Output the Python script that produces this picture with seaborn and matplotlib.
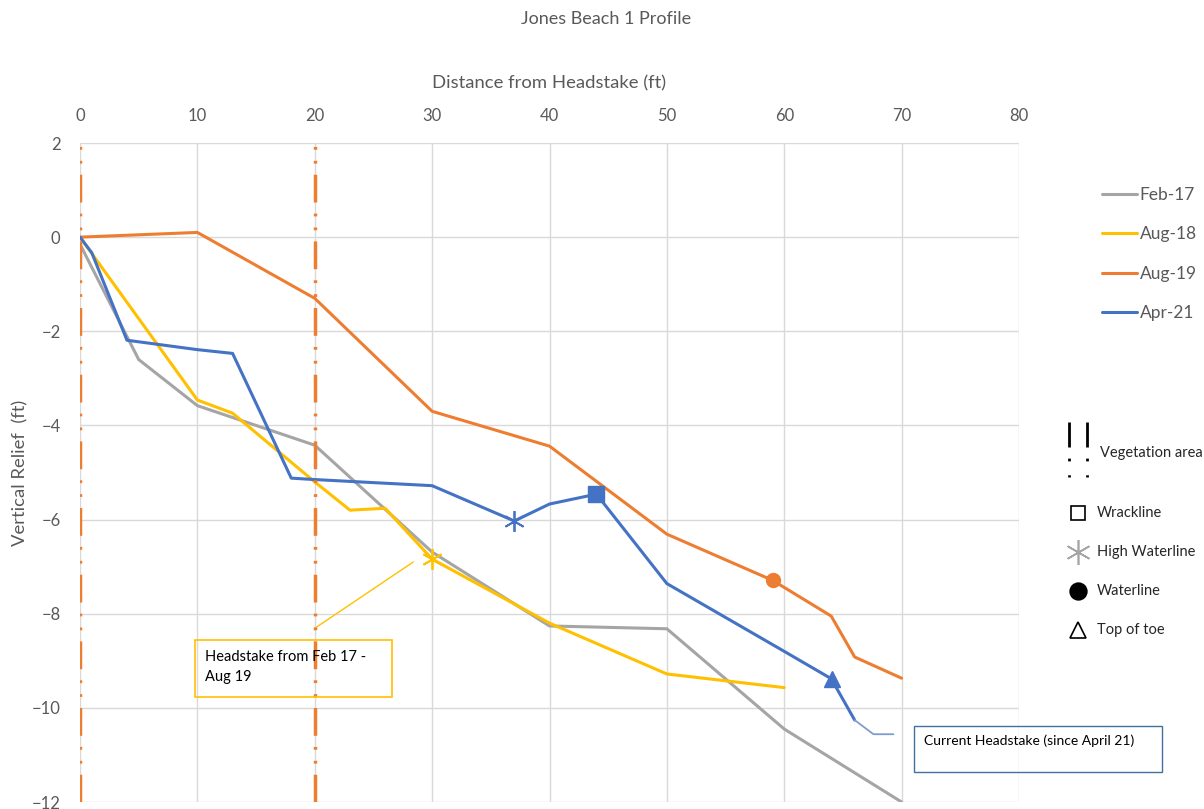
import numpy as np
import pandas as pd
import matplotlib.pyplot as plt
import seaborn as sns
from matplotlib.lines import Line2D

# profile data (distance ft, relief ft)
feb17_x = [0, 5, 10, 20, 30, 40, 50, 60, 70]
feb17_y = [-0.15, -2.6, -3.58, -4.42, -6.69, -8.26, -8.32, -10.45, -12.0]

aug18_x = [0, 10, 13, 20, 23, 26, 30, 40, 50, 60]
aug18_y = [0.0, -3.46, -3.74, -5.2, -5.8, -5.76, -6.84, -8.2, -9.28, -9.57]

aug19_x = [0, 10, 20, 30, 40, 50, 59, 64, 66, 70]
aug19_y = [0.0, 0.1, -1.3, -3.7, -4.44, -6.31, -7.29, -8.05, -8.92, -9.37]

apr21_x = [0, 1, 4, 10, 13, 18, 20, 30, 37, 40, 44, 50, 60, 64, 66]
apr21_y = [0.0, -0.33, -2.19, -2.39, -2.47, -5.12, -5.15, -5.28, -6.03, -5.67, -5.46, -7.36, -8.8, -9.38, -10.26]

# thin tail of the Apr-21 profile out to the current headstake
tail_x = [66, 67.6, 69.3]
tail_y = [-10.26, -10.56, -10.56]

series_names = ['Feb-17', 'Aug-18', 'Aug-19', 'Apr-21']
series_colors = ['#a5a5a5', '#ffc000', '#ed7d31', '#4472c4']

frames = []
for name, xs, ys in zip(series_names, [feb17_x, aug18_x, aug19_x, apr21_x],
                        [feb17_y, aug18_y, aug19_y, apr21_y]):
    frames.append(pd.DataFrame({'Distance': xs, 'Relief': ys, 'Survey': name}))
profiles = pd.concat(frames, ignore_index=True)

sns.set_style("white")
plt.rcParams['font.family'] = ['Lato', 'DejaVu Sans']
txt_col = '#595959'

fig = plt.figure(figsize=(12.04, 8.09), dpi=100)
ax = fig.add_axes([80 / 1204, 7 / 809, 939 / 1204, 659 / 809])

sns.lineplot(data=profiles, x='Distance', y='Relief', hue='Survey',
             palette=dict(zip(series_names, series_colors)), sort=False,
             estimator=None, linewidth=2.2, ax=ax)
ax.plot(tail_x, tail_y, color='#7f9ccf', linewidth=1.3)

# vegetation area boundaries
veg_style = (0, (8, 3.2, 0.8, 3.2, 0.8, 3.2))
for xv in [0, 20]:
    ax.axvline(xv, color='#ed7d31', linewidth=2.5, linestyle=veg_style, zorder=3)

# feature markers
ax.plot(44, -5.46, marker='s', color='#4472c4', markersize=11, zorder=5)
ax.plot(37, -6.03, marker=(6, 2, 0), color='#4472c4', markersize=15,
        markeredgewidth=1.3, zorder=5)
ax.plot(30, -6.84, marker=(6, 2, 0), color='#ffc000', markersize=15,
        markeredgewidth=1.3, zorder=5)
ax.plot(59, -7.29, marker='o', color='#ed7d31', markersize=10, zorder=5)
ax.plot(64.08, -9.38, marker='^', color='#4472c4', markersize=11, zorder=5)

# callouts
ax.plot([20, 28.4], [-8.31, -6.9], color='#ffc000', linewidth=1.0)
fig.text(205 / 1204, 1 - 650 / 809, 'Headstake from Feb 17 -\nAug 19', fontsize=10.5,
         va='top', ha='left', color='black', linespacing=1.5)
fig.add_artist(plt.Rectangle((195 / 1204, 1 - 697 / 809), 197 / 1204, 57 / 809,
                             transform=fig.transFigure, fill=False,
                             edgecolor='#ffc000', linewidth=1.2))
fig.text(924 / 1204, 1 - 741 / 809, 'Current Headstake (since April 21)', fontsize=10,
         va='center', ha='left', color='black')
fig.add_artist(plt.Rectangle((914 / 1204, 1 - 772 / 809), 248 / 1204, 46 / 809,
                             transform=fig.transFigure, fill=False,
                             edgecolor='#41719c', linewidth=1.0))

ax.set_xlim(0, 80)
ax.set_ylim(-12, 2)
ax.set_xticks(np.arange(0, 81, 10))
ax.set_yticks(np.arange(-12, 3, 2))
ax.xaxis.tick_top()
ax.xaxis.set_label_position('top')
ax.tick_params(axis='both', length=0, labelsize=12, labelcolor=txt_col)
ax.tick_params(axis='x', pad=14)
ax.tick_params(axis='y', pad=14)
ax.grid(True, color='#d9d9d9', linewidth=1.0)
for s in ax.spines.values():
    s.set_visible(False)
ax.set_xlabel('Distance from Headstake (ft)', fontsize=13.3, color=txt_col, labelpad=14)
ax.set_ylabel('Vertical Relief  (ft)', fontsize=13.3, color=txt_col, labelpad=2)
fig.text(606 / 1204, 1 - 19 / 809, 'Jones Beach 1 Profile', fontsize=13,
         color=txt_col, ha='center', va='center')

ax.legend(loc='upper left', bbox_to_anchor=(1.072, 0.957), frameon=False,
          fontsize=12.5, handlelength=2.0, handletextpad=0.15, labelspacing=1.35,
          labelcolor=txt_col)

# symbol key
for xp in [1069, 1087]:
    fig.add_artist(Line2D([xp / 1204, xp / 1204], [1 - 422 / 809, 1 - 477 / 809],
                          transform=fig.transFigure, color='black', linewidth=2,
                          linestyle=(0, (9, 4, 1, 5, 1, 4))))
fig.text(1100 / 1204, 1 - 453 / 809, 'Vegetation area', fontsize=10.5, va='center')
key_items = [('s', 'Wrackline', 513, 'none', 'black', 10),
             ((6, 2, 0), 'High Waterline', 552, '#a5a5a5', '#a5a5a5', 18),
             ('o', 'Waterline', 591, 'black', 'black', 12),
             ('^', 'Top of toe', 630, 'none', 'black', 11)]
for mk, lab, yp, fc, ec, ms in key_items:
    fig.add_artist(Line2D([1078 / 1204], [1 - yp / 809], transform=fig.transFigure,
                          marker=mk, markersize=ms, markerfacecolor=fc,
                          markeredgecolor=ec, markeredgewidth=1.2, linestyle='none'))
    fig.text(1097 / 1204, 1 - yp / 809, lab, fontsize=10.5, va='center')

plt.savefig('out.png', dpi=100)
